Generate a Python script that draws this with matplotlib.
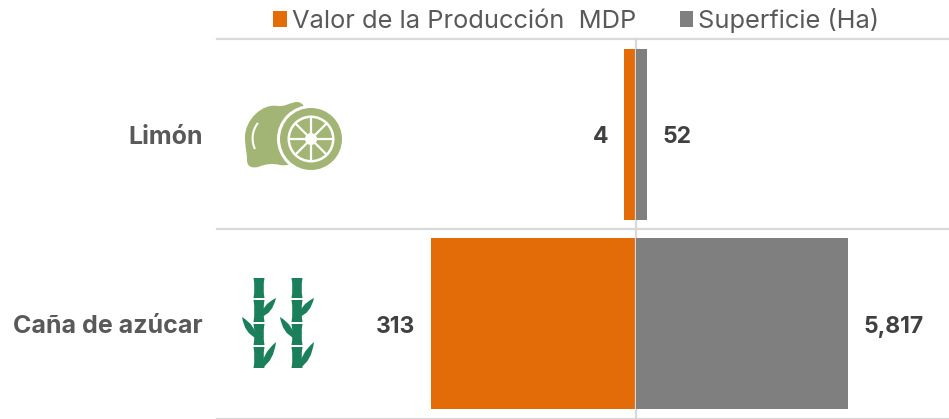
import matplotlib
matplotlib.use('Agg')
import matplotlib.pyplot as plt
import numpy as np
from matplotlib.patches import Circle, PathPatch
from matplotlib.path import Path
from matplotlib.transforms import ScaledTranslation

W, H = 949, 419

cultivos = ['Limón', 'Caña de azúcar']
# etiquetas que muestra la grafica
valor_txt = ['4', '313']
superficie_txt = ['52', '5,817']
# largo de barra (las barras chicas no van a escala con la etiqueta)
valor_largo = [18, 313]
superficie_largo = [302, 5817]

NARANJA = '#E36C09'
GRIS = '#7F7F7F'
LINEA = '#D9D9D9'
TEXTO = '#595959'
OSCURO = '#404040'
LIMON = '#A3B574'
BAMBU = '#1B7F5C'

plt.rcParams['font.family'] = ['Inter', 'DejaVu Sans']

fig = plt.figure(figsize=(W / 100, H / 100), dpi=100)


def caja(x0, x1, y0, y1):
    return [x0 / W, 1 - y1 / H, (x1 - x0) / W, (y1 - y0) / H]


izq = fig.add_axes(caja(217, 636, 39.5, 418.5))
der = fig.add_axes(caja(636, 949, 39.5, 418.5))
y = np.arange(len(cultivos))

b1 = izq.barh(y, valor_largo, height=0.905, color=NARANJA, label='Valor de la Producción  MDP')
b2 = der.barh(y, superficie_largo, height=0.905, color=GRIS, label='Superficie (Ha)')

izq.set_xlim(640, 0)
der.set_xlim(0, 8588)
for ax in (izq, der):
    ax.set_ylim(1.5, -0.5)
    ax.patch.set_alpha(0)
    for s in ax.spines.values():
        s.set_visible(False)
    ax.set_xticks([])
    for g in (-0.5, 0.5, 1.5):
        ax.axhline(g, color=LINEA, lw=1.6, clip_on=False)

izq.set_yticks(y, cultivos, fontsize=18, fontweight='bold', color=TEXTO)
izq.tick_params(axis='y', length=0, pad=10)
baja = ScaledTranslation(0, -0.5 / 72, fig.dpi_scale_trans)
for t in izq.get_yticklabels():
    t.set_transform(t.get_transform() + baja)
der.set_yticks([])
izq.axvline(0, color=LINEA, lw=1.6, clip_on=False, zorder=5)

# el desplazamiento de bar_label se cambia con xyann para bajar el texto
for t in izq.bar_label(b1, labels=valor_txt, padding=11.5, fontsize=16.5, fontweight='bold', color=OSCURO):
    t.xyann = (t.xyann[0], t.xyann[1] - 2)
for t in der.bar_label(b2, labels=superficie_txt, padding=11.5, fontsize=16.5, fontweight='bold', color=OSCURO):
    t.xyann = (t.xyann[0], t.xyann[1] - 2)

fig.legend(handles=[b1, b2], loc='center left', bbox_to_anchor=(273 / W, 1 - 20.5 / H), ncols=2,
           frameon=False, fontsize=18.3, labelcolor=TEXTO, handlelength=0.55, handleheight=0.55,
           handletextpad=0.18, columnspacing=1.72, borderpad=0, borderaxespad=0)

# iconos en coordenadas de pixel
ico = fig.add_axes([0, 0, 1, 1], zorder=3)
ico.set_xlim(0, W)
ico.set_ylim(H, 0)
ico.axis('off')

C4 = Path.CURVE4
cuerpo = [(297, 102),
          (291, 102), (285, 107), (278, 106),
          (262, 103), (245, 120), (245, 137),
          (245, 147), (247, 153), (247, 160),
          (247, 168), (254, 168), (258, 167),
          (266, 164), (272, 163), (280, 165),
          (295, 168), (312, 150), (312, 125),
          (312, 115), (301, 113), (304, 108),
          (304, 104), (300, 102), (297, 102)]
ico.add_patch(PathPatch(Path(cuerpo, [Path.MOVETO] + [C4] * 24), fc=LIMON, ec='none'))
ico.add_patch(PathPatch(Path([(258, 123), (252, 130), (251, 141), (255, 149)],
                             [Path.MOVETO, C4, C4, C4]), fc='none', ec='white', lw=1.5))
cx, cy = 311, 139
ico.add_patch(Circle((cx, cy), 34, fc='white', ec='none'))
ico.add_patch(Circle((cx, cy), 31, fc=LIMON, ec='none'))
ico.add_patch(Circle((cx, cy), 23.5, fc='white', ec='none'))
ico.add_patch(Circle((cx, cy), 21, fc=LIMON, ec='none'))
for a in (0, 45, 90, 135):
    dx, dy = 22 * np.cos(np.radians(a)), 22 * np.sin(np.radians(a))
    ico.plot([cx - dx, cx + dx], [cy - dy, cy + dy], color='white', lw=1.6, solid_capstyle='butt')
ico.add_patch(Circle((cx, cy), 6, fc='white', ec='none'))
ico.add_patch(Circle((cx, cy), 3, fc=LIMON, ec='none'))


def hoja(x0, y0, x1, y1, ancho=7):
    # hoja de bambu como dos curvas entre base y punta
    dx, dy = x1 - x0, y1 - y0
    n = np.hypot(dx, dy)
    px, py = -dy / n * ancho, dx / n * ancho
    c1 = (x0 + dx * 0.4 + px, y0 + dy * 0.4 + py)
    c2 = (x0 + dx * 0.4 - px, y0 + dy * 0.4 - py)
    ico.add_patch(PathPatch(Path([(x0, y0), c1, (x1, y1), c2, (x0, y0)],
                                 [Path.MOVETO, Path.CURVE3, Path.CURVE3, Path.CURVE3, Path.CURVE3]),
                            fc=BAMBU, ec='none'))


def tramo(tx, y0, y1):
    # tramo de caña, un poco mas angosto al centro
    m = (y0 + y1) / 2
    pts = [(tx - 5.5, y0), (tx + 5.5, y0), (tx + 3.6, m), (tx + 5.5, y1),
           (tx - 5.5, y1), (tx - 3.6, m), (tx - 5.5, y0)]
    cods = [Path.MOVETO, Path.LINETO, Path.CURVE3, Path.CURVE3, Path.LINETO, Path.CURVE3, Path.CURVE3]
    ico.add_patch(PathPatch(Path(pts, cods), fc=BAMBU, ec='none'))


for tx in (259, 297):
    for y0, y1 in [(278, 298), (300, 322), (324, 345), (347, 368)]:
        tramo(tx, y0, y1)
    hoja(tx + 2, 317, tx + 17, 298)
    hoja(tx - 3, 338, tx - 17, 317)
    hoja(tx + 3, 368, tx + 17, 342)

fig.savefig('out.png', dpi=100)
